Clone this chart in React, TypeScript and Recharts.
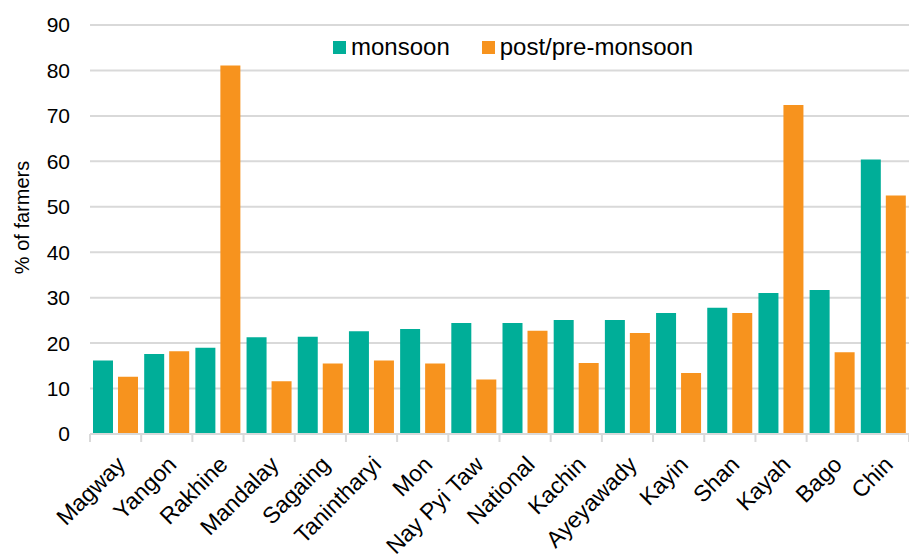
import React from 'react';
import { BarChart, Bar, XAxis, YAxis, CartesianGrid, Legend, Label } from 'recharts';

const regions = [
  'Magway', 'Yangon', 'Rakhine', 'Mandalay', 'Sagaing', 'Tanintharyi', 'Mon', 'Nay Pyi Taw',
  'National', 'Kachin', 'Ayeyawady', 'Kayin', 'Shan', 'Kayah', 'Bago', 'Chin',
];
const monsoon = [16.2, 17.6, 19.0, 21.3, 21.4, 22.6, 23.1, 24.4, 24.4, 25.1, 25.1, 26.6, 27.8, 31.0, 31.7, 60.4];
const postPre = [12.6, 18.2, 81.1, 11.6, 15.5, 16.2, 15.5, 12.0, 22.7, 15.6, 22.2, 13.4, 26.6, 72.4, 18.0, 52.5];
const yTicks = [0, 10, 20, 30, 40, 50, 60, 70, 80, 90];

const data = regions.map((name, i) => ({ name, monsoon: monsoon[i], post: postPre[i] }));

const TEAL = '#00AE98';
const ORANGE = '#F7931E';
const GRID = '#d9d9d9';
const FONT = '"Liberation Sans", Arial, sans-serif';

const XTick = (props: any) => {
  const { x, y, payload, width, index } = props;
  const bw = width / regions.length;
  const axisY = y - 8;
  return (
    <g>
      <line x1={x - bw / 2} x2={x - bw / 2} y1={axisY} y2={axisY + 8} stroke={GRID} strokeWidth={2} />
      {index === regions.length - 1 && (
        <line x1={x + bw / 2} x2={x + bw / 2} y1={axisY} y2={axisY + 8} stroke={GRID} strokeWidth={2} />
      )}
      <g transform={`translate(${x + 11},${y + 24})`}>
        <text x={0} y={0} textAnchor="end" transform="rotate(-45)" fontSize={23} fill="#000" fontFamily={FONT}>
          {payload.value}
        </text>
      </g>
    </g>
  );
};

const LegendContent = () => (
  <div style={{ display: 'flex', alignItems: 'center', gap: 32, fontFamily: FONT, fontSize: 24, color: '#000', lineHeight: 'normal' }}>
    <span style={{ display: 'flex', alignItems: 'center' }}>
      <span style={{ width: 13, height: 13, background: TEAL, marginRight: 5, display: 'inline-block' }} />
      monsoon
    </span>
    <span style={{ display: 'flex', alignItems: 'center' }}>
      <span style={{ width: 13, height: 13, background: ORANGE, marginRight: 5, display: 'inline-block' }} />
      post/pre-monsoon
    </span>
  </div>
);

export default function App() {
  return (
    <div style={{ position: 'absolute', left: 0, top: 0, width: 909, height: 555, background: '#fff' }}>
      <BarChart
        width={909}
        height={555}
        data={data}
        margin={{ top: 25, right: 0, left: 0, bottom: 0 }}
        barCategoryGap={3}
        barGap={5}
      >
        <CartesianGrid vertical={false} stroke={GRID} strokeWidth={2} />
        <XAxis
          dataKey="name"
          height={121}
          interval={0}
          axisLine={{ stroke: GRID, strokeWidth: 2 }}
          tickLine={false}
          tick={<XTick />}
        />
        <YAxis
          width={90}
          domain={[0, 90]}
          ticks={yTicks}
          interval={0}
          axisLine={false}
          tickLine={false}
          tickMargin={14}
          tick={{ fontSize: 21, fill: '#000', fontFamily: FONT }}
        >
          <Label
            content={({ viewBox }: any) => {
              const cx = viewBox.x + 22;
              const cy = viewBox.y + viewBox.height / 2 - 12;
              return (
                <text x={cx} y={cy} transform={`rotate(-90 ${cx} ${cy})`} textAnchor="middle" dominantBaseline="central" fontSize={20} fontFamily={FONT} fill="#000">
                  % of farmers
                </text>
              );
            }}
          />
        </YAxis>
        <Legend verticalAlign="middle" wrapperStyle={{ top: 33, left: 333, width: 420 }} content={<LegendContent />} />
        <Bar dataKey="monsoon" name="monsoon" fill={TEAL} isAnimationActive={false} />
        <Bar dataKey="post" name="post/pre-monsoon" fill={ORANGE} isAnimationActive={false} />
      </BarChart>
    </div>
  );
}
